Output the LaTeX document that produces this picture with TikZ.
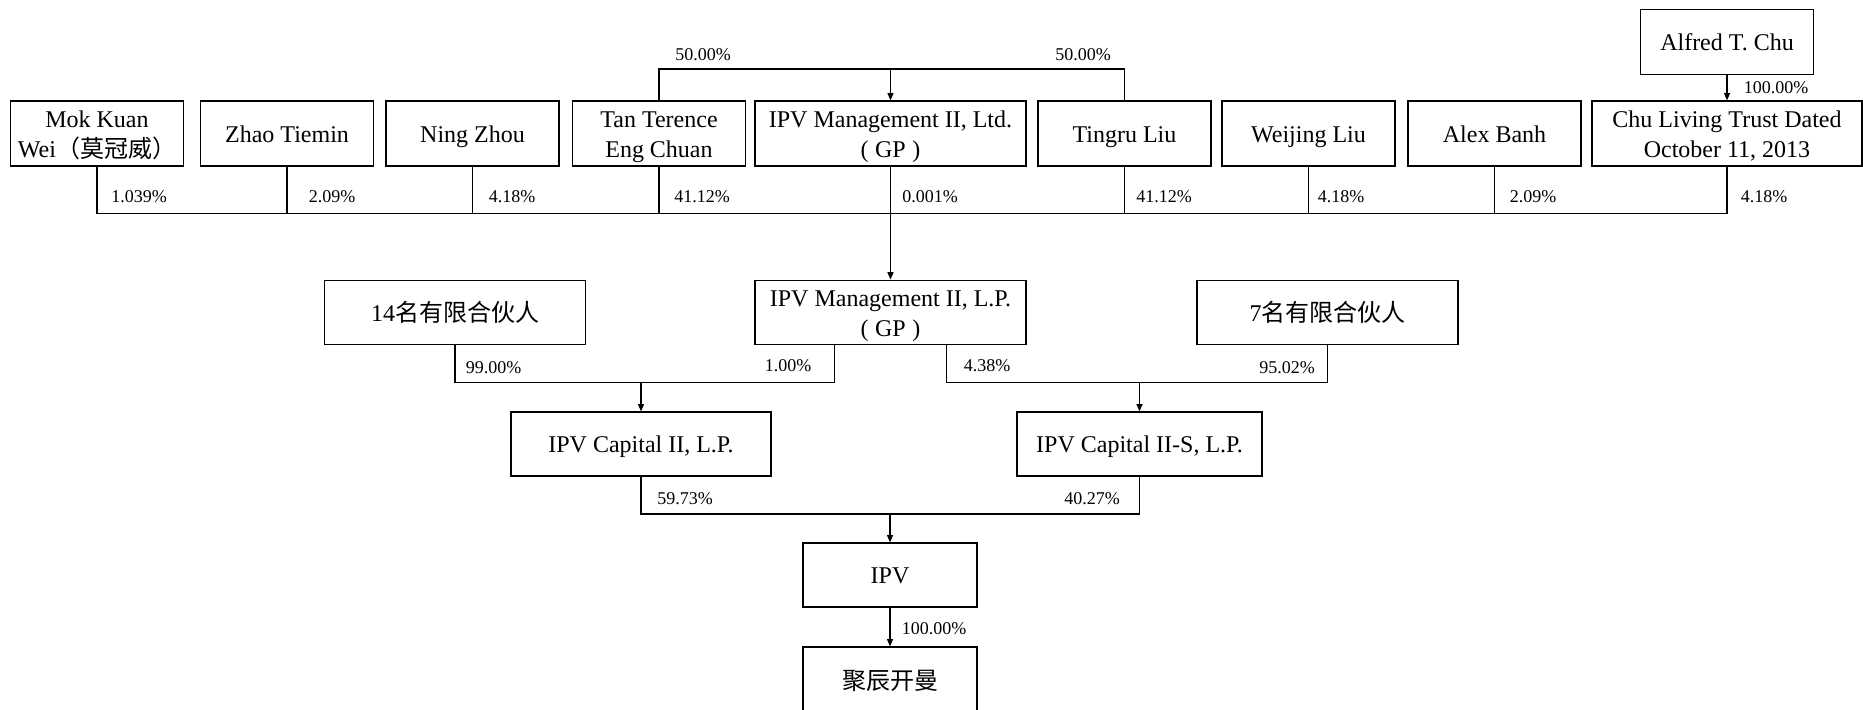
\documentclass[tikz,border=0pt]{standalone}
\usepackage{fontspec}
\setmainfont{Liberation Serif}
\newfontfamily\cjk{Noto Sans CJK SC}
\usetikzlibrary{arrows.meta}
\newcommand\bxtop{\rule{0pt}{17.5pt}}
\newcommand\fl{\rule{0pt}{18pt}}
\newcommand\bxbot{\rule[-4.5pt]{0pt}{0pt}}
\begin{document}
\begin{tikzpicture}[x=0.75pt,y=-0.75pt,
  box/.style={draw,line width=0.9pt,inner sep=0pt,minimum height=48.75pt,align=center,
    font=\fontsize{18}{22}\selectfont,execute at begin node=\bxtop,execute at end node=\bxbot},
  pct/.style={inner sep=0pt,font=\fontsize{13.5}{16}\selectfont},
  ln/.style={line width=0.9pt},
  arr/.style={line width=0.9pt,-{Triangle[length=5.5pt,width=4.5pt]}}]
\useasboundingbox (0,0) rectangle (1863,710);
% top row
\node[box,minimum width=129.75pt] (mok) at (97,133.5) {\fl Mok Kuan\\Wei{\cjk （莫冠威）}};
\node[box,minimum width=129.75pt] (zhao) at (287,133.5) {Zhao Tiemin};
\node[box,minimum width=129.75pt] (ning) at (472.5,133.5) {Ning Zhou};
\node[box,minimum width=129.75pt] (tan) at (659,133.5) {\fl Tan Terence\\Eng Chuan};
\node[box,minimum width=203.25pt] (ipvltd) at (890.5,133.5) {\fl IPV Management II, Ltd.\\(\hspace{5pt}GP\hspace{5pt})};
\node[box,minimum width=129.75pt] (tingru) at (1124.5,133.5) {Tingru Liu};
\node[box,minimum width=129.75pt] (weijing) at (1308.5,133.5) {Weijing Liu};
\node[box,minimum width=129.75pt] (alex) at (1494.5,133.5) {Alex Banh};
\node[box,minimum width=202.5pt] (chu) at (1727,133.5) {\fl Chu Living Trust Dated\\October 11, 2013};
\node[box,minimum width=129.75pt] (alfred) at (1727,42) {Alfred T. Chu};
% middle row
\node[box,minimum width=195.75pt,minimum height=48.5pt] (lp14) at (455,312.5) {14{\cjk 名有限合伙人}};
\node[box,minimum width=203.25pt,minimum height=48.5pt] (ipvlp) at (890.5,312.5) {\fl IPV Management II, L.P.\\(\hspace{5pt}GP\hspace{5pt})};
\node[box,minimum width=195.75pt,minimum height=48.5pt] (lp7) at (1327.5,312.5) {7{\cjk 名有限合伙人}};
\node[box,minimum width=195pt,minimum height=48pt] (cap2) at (641,444) {IPV Capital II, L.P.};
\node[box,minimum width=183.75pt,minimum height=48pt] (cap2s) at (1139.5,444) {IPV Capital II-S, L.P.};
\node[box,minimum width=130.5pt,minimum height=48pt] (ipv) at (890,575) {IPV};
\node[box,minimum width=130.5pt,minimum height=51pt] (jc) at (890,681) {{\cjk 聚辰开曼}};
% helper coordinates
\coordinate (topy) at (0,69);
\coordinate (busy) at (0,213.5);
\coordinate (bus2y) at (0,382.5);
\coordinate (bus3y) at (0,514);
\coordinate (ipvlpL) at ([xshift=-42pt]ipvlp.south);
\coordinate (ipvlpR) at ([xshift=42pt]ipvlp.south);
% connectors
\draw[ln] (tan.north) -- (tan.north |- topy) -- (tingru.north |- topy) -- (tingru.north);
\draw[arr] (ipvltd.north |- topy) -- (ipvltd.north);
\draw[arr] (alfred.south) -- (chu.north);
\draw[ln] (mok.south) -- (mok.south |- busy) -- (chu.south |- busy) -- (chu.south);
\foreach \n in {zhao,ning,tan,tingru,weijing,alex} \draw[ln] (\n.south) -- (\n.south |- busy);
\draw[arr] (ipvltd.south) -- (ipvlp.north);
\draw[ln] (lp14.south) -- (lp14.south |- bus2y) -- (ipvlpL |- bus2y) -- (ipvlpL);
\draw[arr] (cap2.north |- bus2y) -- (cap2.north);
\draw[ln] (ipvlpR) -- (ipvlpR |- bus2y) -- (lp7.south |- bus2y) -- (lp7.south);
\draw[arr] (cap2s.north |- bus2y) -- (cap2s.north);
\draw[ln] (cap2.south) -- (cap2.south |- bus3y) -- (cap2s.south |- bus3y) -- (cap2s.south);
\draw[arr] (ipv.north |- bus3y) -- (ipv.north);
\draw[arr] (ipv.south) -- (jc.north);
% percentage labels
\node[pct] (p50a) at (703,54.5) {50.00\%};
\node[pct] (p50b) at (1083,54.5) {50.00\%};
\node[pct] (palfred) at (1776,88) {100.00\%};
\node[pct] (pmok) at (139,197) {1.039\%};
\node[pct] (pzhao) at (332,197) {2.09\%};
\node[pct] (pning) at (512,197) {4.18\%};
\node[pct] (ptan) at (702,197) {41.12\%};
\node[pct] (pltd) at (930,197) {0.001\%};
\node[pct] (ptingru) at (1164,197) {41.12\%};
\node[pct] (pweijing) at (1341,197) {4.18\%};
\node[pct] (palex) at (1533,197) {2.09\%};
\node[pct] (pchu) at (1764,197) {4.18\%};
\node[pct] (p99) at (493.5,368) {99.00\%};
\node[pct] (p1) at (788,366) {1.00\%};
\node[pct] (p438) at (987,366) {4.38\%};
\node[pct] (p9502) at (1287,368) {95.02\%};
\node[pct] (p5973) at (685,499) {59.73\%};
\node[pct] (p4027) at (1092,499) {40.27\%};
\node[pct] (p100) at (934,629) {100.00\%};
\end{tikzpicture}
\end{document}
